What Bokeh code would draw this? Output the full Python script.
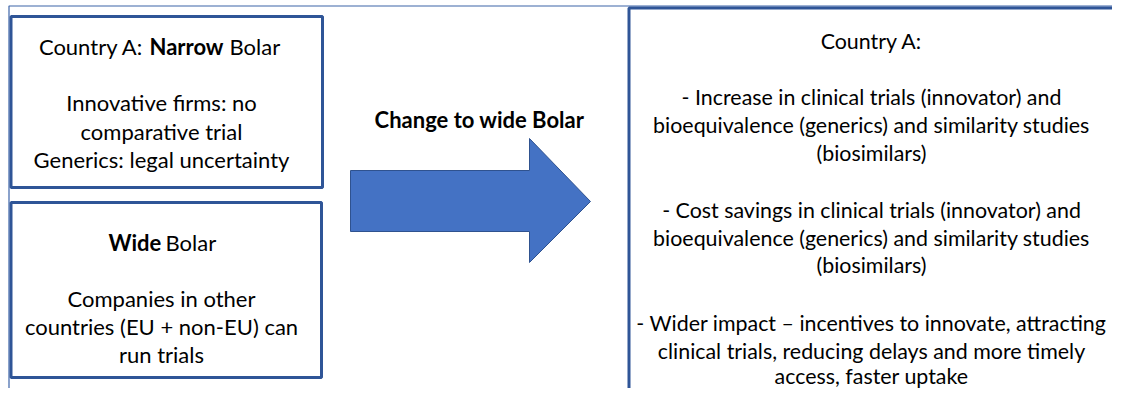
from bokeh.plotting import figure
from bokeh.models import ColumnDataSource, Range1d
from bokeh.core.properties import value
from bokeh.embed import file_html
from bokeh.resources import INLINE

# ---------------- content ----------------
box1_head = ["Country A:", "Narrow", "Bolar"]
box1_lines = ["Innovative firms: no", "comparative trial", "Generics: legal uncertainty"]
box2_head = ["Wide", "Bolar"]
box2_lines = ["Companies in other", "countries (EU + non-EU) can", "run trials"]
arrow_label = ["Change to wide Bolar"]
right_lines = [
    "Country A:",
    "- Increase in clinical trials (innovator) and",
    "bioequivalence (generics) and similarity studies",
    "(biosimilars)",
    "- Cost savings in clinical trials (innovator) and",
    "bioequivalence (generics) and similarity studies",
    "(biosimilars)",
    "- Wider impact \u2013 incentives to innovate, attracting",
    "clinical trials, reducing delays and more timely",
    "access, faster uptake",
]

# ---------------- layout ----------------
FONT = "Lato"
FS = "22px"
FS_R = "21.4px"
BORDER = "#2F5597"
W, H = 1112, 388

p = figure(width=W, height=H, x_range=Range1d(0, W), y_range=Range1d(H, 0),
           output_backend="svg", toolbar_location=None, min_border=0,
           x_axis_location=None, y_axis_location=None)
p.grid.visible = False
p.outline_line_color = None
p.background_fill_color = "white"
p.border_fill_color = "white"

# outer thin frame
p.line(x=[8.5, 8.5, 1130], y=[420, 5.5, 5.5], line_color="#3d64a8", line_width=1.2)

# boxes
boxes = ColumnDataSource(dict(left=[10.5, 10.5, 628.5], right=[322, 321, 1140],
                              top=[16, 202, 7.5], bottom=[187, 377, 430]))
p.quad(left="left", right="right", top="top", bottom="bottom", source=boxes,
       fill_color="white", line_color=BORDER, line_width=3)

# arrow
ax = [350, 529, 529, 590, 529, 529, 350]
ay = [170, 170, 138, 201, 262, 231, 231]
p.patch(ax, ay, fill_color="#4472C4", line_color="#2F528F", line_width=1)

def txt(xs, ys, texts, align="center", style="normal", size=FS):
    src = ColumnDataSource(dict(x=xs, y=ys, t=texts))
    p.text(x="x", y="y", text="t", source=src, text_align=align, text_baseline="middle",
           text_font=value(FONT), text_font_size=size, text_font_style=style,
           text_color="#000000")

# box 1
txt([143], [46], [box1_head[0]], align="right")
txt([149], [46], [box1_head[1]], align="left", style="bold")
txt([229], [46], [box1_head[2]], align="left")
txt([161] * 3, [102, 131, 159], box1_lines)

# box 2
txt([108], [242], [box2_head[0]], align="left", style="bold")
txt([165], [242], [box2_head[1]], align="left")
txt([161] * 3, [298, 326, 354], box2_lines)

# arrow label
txt([479], [119], arrow_label, style="bold")

# right box
ry = [40, 96, 124, 152, 209, 237, 264, 322, 350, 375]
txt([871] * len(right_lines), ry, right_lines, size=FS_R)

open("out.html", "w").write(file_html(p, INLINE))
